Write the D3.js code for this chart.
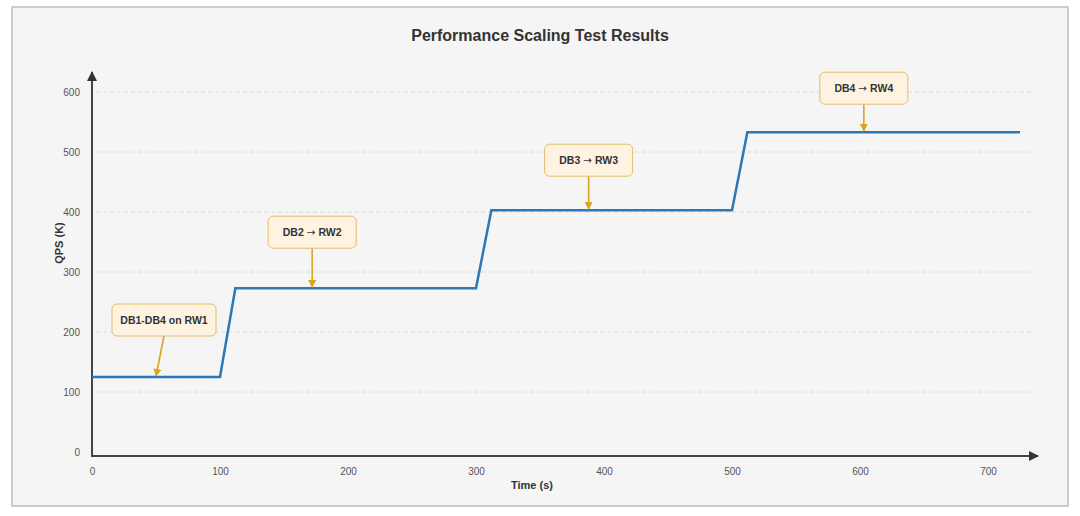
<!DOCTYPE html>
<html>
<head>
<meta charset="utf-8">
<script src="https://cdn.jsdelivr.net/npm/d3@7"></script>
<style>
  body { margin: 0; background: #fff; }
  text { font-family: "Liberation Sans", Arial, Helvetica, sans-serif; }
</style>
</head>
<body>
<svg id="chart"></svg>
<script>
// QPS over time, step at each rewire
var times = [0, 100, 112, 300, 312, 500, 512, 725];
var qps   = [125, 125, 273, 273, 403, 403, 533, 533];

var xTicks = [0, 100, 200, 300, 400, 500, 600, 700];
var yTicks = [0, 100, 200, 300, 400, 500, 600];

var noteText = ['DB1-DB4 on RW1', 'DB2 \u2192 RW2', 'DB3 \u2192 RW3', 'DB4 \u2192 RW4'];
var noteTime = [50, 172, 388, 603];
var noteQps  = [125, 273, 403, 533];

var W = 1080, H = 516;
var svg = d3.select('#chart').attr('width', W).attr('height', H);

// panel
svg.append('rect')
    .attr('x', 12).attr('y', 7)
    .attr('width', 1056).attr('height', 499)
    .attr('fill', '#f5f5f5')
    .attr('stroke', '#bdbdbd')
    .attr('stroke-width', 1.5);

var x = d3.scaleLinear().domain([0, 700]).range([92, 988]);
var y = d3.scaleLinear().domain([0, 600]).range([452, 92]);

var defs = svg.append('defs');
defs.append('marker')
    .attr('id', 'axisArrow')
    .attr('viewBox', '0 0 10 10')
    .attr('refX', 9).attr('refY', 5)
    .attr('markerWidth', 5).attr('markerHeight', 5)
    .attr('markerUnits', 'strokeWidth')
    .attr('orient', 'auto')
  .append('path')
    .attr('d', 'M0,0 L10,5 L0,10 Z')
    .attr('fill', '#333');
defs.append('marker')
    .attr('id', 'noteArrow')
    .attr('viewBox', '0 0 10 10')
    .attr('refX', 9).attr('refY', 5)
    .attr('markerWidth', 5).attr('markerHeight', 5)
    .attr('markerUnits', 'strokeWidth')
    .attr('orient', 'auto')
  .append('path')
    .attr('d', 'M0,0 L10,5 L0,10 Z')
    .attr('fill', '#d9a521');

// grid
svg.append('g')
  .selectAll('line')
  .data(yTicks.filter(d => d > 0))
  .enter()
  .append('line')
    .attr('x1', 96).attr('x2', 1035)
    .attr('y1', d => y(d)).attr('y2', d => y(d))
    .attr('stroke', '#dcdcdc')
    .attr('stroke-width', 1)
    .attr('stroke-dasharray', '4,3');

// y axis
var yAxis = d3.axisLeft(y).tickValues(yTicks).tickSize(0).tickPadding(12);
var gy = svg.append('g').attr('transform', 'translate(92,0)').call(yAxis);
gy.select('.domain').remove();
gy.selectAll('text').attr('fill', '#555').style('font-size', '10px');

// x axis
var xAxis = d3.axisBottom(x).tickValues(xTicks).tickSize(0).tickPadding(12);
var gx = svg.append('g').attr('transform', 'translate(0,456)').call(xAxis);
gx.select('.domain').remove();
gx.selectAll('text').attr('fill', '#555').style('font-size', '10px');

// axis lines with arrows
svg.append('line')
    .attr('x1', 92).attr('y1', 457)
    .attr('x2', 92).attr('y2', 72)
    .attr('stroke', '#444').attr('stroke-width', 2)
    .attr('marker-end', 'url(#axisArrow)');
svg.append('line')
    .attr('x1', 91).attr('y1', 456)
    .attr('x2', 1038).attr('y2', 456)
    .attr('stroke', '#444').attr('stroke-width', 2)
    .attr('marker-end', 'url(#axisArrow)');

// line
var pts = times.map((t, i) => [t, qps[i]]);
var line = d3.line().x(d => x(d[0])).y(d => y(d[1]));
svg.append('path')
    .datum(pts)
    .attr('d', line)
    .attr('fill', 'none')
    .attr('stroke', '#2b78b6')
    .attr('stroke-width', 2.5)
    .attr('stroke-linejoin', 'miter');

// annotations
var boxW = [104, 88, 88, 88], boxH = 32;
var boxDx = [8, 0, 0, 0], boxDy = [-57, -56, -50, -44];
noteText.forEach(function (txt, i) {
  var tx = x(noteTime[i]), ty = y(noteQps[i]);
  var cx = tx + boxDx[i], cy = ty + boxDy[i];
  svg.append('line')
      .attr('x1', cx).attr('y1', cy + boxH / 2)
      .attr('x2', tx).attr('y2', ty - 1)
      .attr('stroke', '#d9a521').attr('stroke-width', 1.6)
      .attr('marker-end', 'url(#noteArrow)');
  svg.append('rect')
      .attr('x', cx - boxW[i] / 2).attr('y', cy - boxH / 2)
      .attr('width', boxW[i]).attr('height', boxH)
      .attr('rx', 5)
      .attr('fill', '#fdf3e0')
      .attr('stroke', '#e3bd6a')
      .attr('stroke-width', 1);
  var t = svg.append('text')
      .attr('x', cx).attr('y', cy + 4)
      .attr('text-anchor', 'middle')
      .attr('fill', '#333')
      .style('font-size', '10.5px')
      .style('font-weight', 'bold');
  // arrow glyph is tiny in Liberation, take it from DejaVu
  txt.split(/(\u2192)/).forEach(function (part) {
    var s = t.append('tspan').text(part);
    if (part === '\u2192') s.style('font-family', '"DejaVu Sans"').style('font-weight', 'normal');
  });
});

// titles
svg.append('text')
    .attr('x', 540).attr('y', 41)
    .attr('text-anchor', 'middle')
    .attr('fill', '#333')
    .style('font-size', '16px')
    .style('font-weight', 'bold')
    .text('Performance Scaling Test Results');

svg.append('text')
    .attr('x', 532).attr('y', 489)
    .attr('text-anchor', 'middle')
    .attr('fill', '#333')
    .style('font-size', '11px')
    .style('font-weight', 'bold')
    .text('Time (s)');

svg.append('text')
    .attr('transform', 'translate(63,243) rotate(-90)')
    .attr('text-anchor', 'middle')
    .attr('fill', '#333')
    .style('font-size', '11px')
    .style('font-weight', 'bold')
    .text('QPS (K)');
</script>
</body>
</html>
